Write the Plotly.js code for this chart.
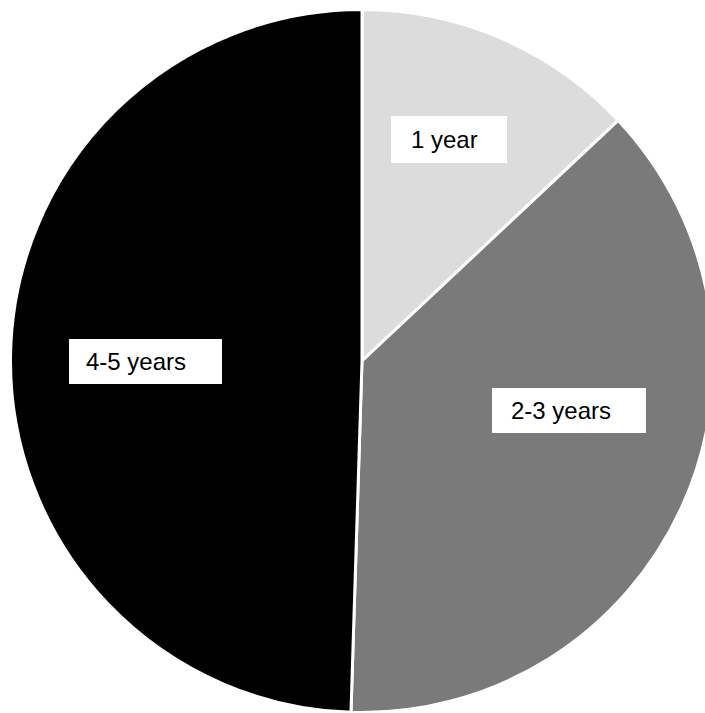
<!DOCTYPE html>
<html>
<head>
<meta charset="utf-8">
<script src="https://cdn.plot.ly/plotly-3.0.1.min.js"></script>
<style>
html, body { margin:0; padding:0; overflow:hidden; background:#fff; }
#chart { width:724px; height:722px; }
</style>
</head>
<body>
<div id="chart"></div>
<script>
const categories = ["1 year", "2-3 years", "4-5 years"];
const shares = [13.0, 37.5, 49.5];
const sliceColors = ["#dcdcdc", "#7a7a7a", "#000000"];

const W = 724, H = 722;
// label boxes in page pixels: [left, top, right, bottom, textLeft]
const boxes = [
  [391, 116, 507, 163, 409],
  [492, 388, 646, 433, 509],
  [69, 339, 222, 384, 84]
];
const px = x => x / W;
const py = y => 1 - y / H;

const shapes = boxes.map(b => ({
  type: 'rect', xref: 'paper', yref: 'paper', layer: 'above',
  x0: px(b[0]), x1: px(b[2]), y0: py(b[3]), y1: py(b[1]),
  fillcolor: '#ffffff', line: { width: 0 }
}));
const annotations = categories.map((c, i) => ({
  text: c, xref: 'paper', yref: 'paper', showarrow: false,
  x: px(boxes[i][4]), y: py((boxes[i][1] + boxes[i][3]) / 2),
  xanchor: 'left', yanchor: 'middle',
  font: { family: 'Liberation Sans, Arial, sans-serif', size: 24, color: '#000' }
}));

Plotly.newPlot('chart', [{
  type: 'pie',
  labels: categories,
  values: shares,
  sort: false,
  direction: 'clockwise',
  rotation: 0,
  marker: { colors: sliceColors, line: { color: '#ffffff', width: 3 } },
  textinfo: 'none',
  hoverinfo: 'none',
  showlegend: false,
  domain: { x: [10.5 / W, 713.5 / W], y: [(H - 712.5) / H, (H - 9.5) / H] }
}], {
  width: W, height: H,
  margin: { l: 0, r: 0, t: 0, b: 0 },
  paper_bgcolor: '#ffffff',
  showlegend: false,
  shapes: shapes,
  annotations: annotations
}, { displayModeBar: false, staticPlot: true });
</script>
</body>
</html>
